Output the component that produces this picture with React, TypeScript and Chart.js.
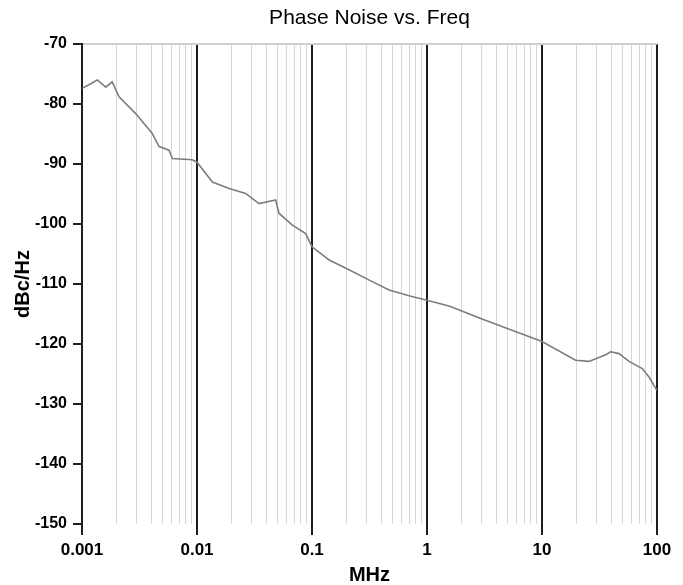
import React, { useEffect, useRef } from "react";
import { Chart, registerables } from "chart.js";

Chart.register(...registerables);

const freqMHz = [
  0.001, 0.00115, 0.00136, 0.00161, 0.00183, 0.0021, 0.00293, 0.00408, 0.00468, 0.00571,
  0.0061, 0.0091, 0.01, 0.0136, 0.019, 0.0265, 0.0346, 0.0483, 0.0516, 0.0675,
  0.0881, 0.1, 0.141, 0.214, 0.318, 0.468, 0.71, 1, 1.58, 2.89, 5.27, 10, 19.6,
  25.6, 35.8, 39.6, 46.8, 57.1, 74.5, 85.2, 97.5, 100,
];
const noiseDbc = [
  -77.4, -76.8, -76.0, -77.2, -76.3, -78.8, -81.6, -84.9, -87.1, -87.7,
  -89.1, -89.3, -89.7, -93.0, -94.1, -94.9, -96.6, -96.0, -98.2, -100.2,
  -101.6, -103.8, -106.0, -107.7, -109.4, -111.0, -112.0, -112.7, -113.7, -115.7, -117.6, -119.6, -122.7,
  -122.9, -121.8, -121.3, -121.6, -122.9, -124.1, -125.5, -127.4, -127.7,
];
const xTickLabels = ["0.001", "0.01", "0.1", "1", "10", "100"];
const yTickValues = [-70, -80, -90, -100, -110, -120, -130, -140, -150];

const FONT = "'Liberation Sans', Arial, Helvetica, sans-serif";

const isDecade = (v: number) => {
  const l = Math.log10(v);
  return Math.abs(l - Math.round(l)) < 1e-6;
};

export default function App() {
  const ref = useRef<HTMLCanvasElement | null>(null);

  useEffect(() => {
    if (!ref.current) return;
    const points = freqMHz.map((f, i) => ({ x: f, y: noiseDbc[i] }));
    const chart = new Chart(ref.current, {
      type: "line",
      data: {
        datasets: [
          {
            data: points,
            borderColor: "#7d7d7d",
            borderWidth: 1.6,
            pointRadius: 0,
            tension: 0,
            fill: false,
          },
        ],
      },
      options: {
        animation: false,
        responsive: false,
        maintainAspectRatio: false,
        layout: { padding: { top: 0, left: 0, right: 26, bottom: 0 } },
        plugins: {
          legend: { display: false },
          tooltip: { enabled: false },
          title: {
            display: true,
            text: "Phase Noise vs. Freq",
            fullSize: false,
            color: "#000",
            font: { family: FONT, size: 21, weight: "normal", lineHeight: 1 },
            padding: { top: 8, bottom: 15 },
          },
        },
        scales: {
          x: {
            type: "logarithmic",
            min: 0.001,
            max: 100,
            afterBuildTicks: (scale: any) => {
              const ticks: any[] = [];
              for (let e = -3; e < 2; e++) {
                for (let k = 1; k <= 9; k++) {
                  const v = parseFloat((k * Math.pow(10, e)).toPrecision(6));
                  ticks.push({ value: v, major: k === 1 });
                }
              }
              ticks.push({ value: 100, major: true });
              scale.ticks = ticks;
            },
            afterFit: (scale: any) => {
              scale.height = 61;
            },
            border: { display: false },
            grid: {
              color: (ctx: any) => (isDecade(ctx.tick.value) ? "#1e1e1e" : "#d6d6d6"),
              lineWidth: (ctx: any) => (isDecade(ctx.tick.value) ? 2 : 1),
              tickColor: (ctx: any) => (isDecade(ctx.tick.value) ? "#1e1e1e" : "rgba(0,0,0,0)"),
              tickLength: 11,
            },
            ticks: {
              autoSkip: false,
              maxRotation: 0,
              padding: 5,
              color: "#000",
              font: { family: FONT, size: 17, weight: "bold" },
              callback: (value: any) => {
                const v = Number(value);
                if (!isDecade(v)) return "";
                const idx = Math.round(Math.log10(v)) + 3;
                return xTickLabels[idx];
              },
            },
            title: {
              display: true,
              text: "MHz",
              color: "#000",
              font: { family: FONT, size: 20, weight: "bold", lineHeight: 1 },
              padding: { top: 0, bottom: 0 },
            },
          },
          y: {
            type: "linear",
            min: -150,
            max: -70,
            afterBuildTicks: (scale: any) => {
              scale.ticks = yTickValues.map((v) => ({ value: v }));
            },
            afterFit: (scale: any) => {
              scale.width = 82;
            },
            border: { display: true, color: "#1e1e1e", width: 2 },
            grid: {
              color: (ctx: any) => (ctx.tick && ctx.tick.value === -70 ? "#cfcfcf" : "rgba(0,0,0,0)"),
              lineWidth: 2,
              tickColor: "#1e1e1e",
              tickLength: 9,
            },
            ticks: {
              padding: 6,
              color: "#000",
              font: { family: FONT, size: 16, weight: "bold" },
              callback: (value: any) => String(value),
            },
            title: {
              display: true,
              text: "dBc/Hz",
              color: "#000",
              font: { family: FONT, size: 20, weight: "bold", lineHeight: 1.2 },
              padding: { top: 11, bottom: 0 },
            },
          },
        },
      },
    });
    return () => chart.destroy();
  }, []);

  return (
    <div style={{ position: "fixed", left: 0, top: 0, width: 683, height: 585, background: "#fff" }}>
      <canvas ref={ref} width={683} height={585} style={{ width: 683, height: 585, display: "block" }} />
    </div>
  );
}
